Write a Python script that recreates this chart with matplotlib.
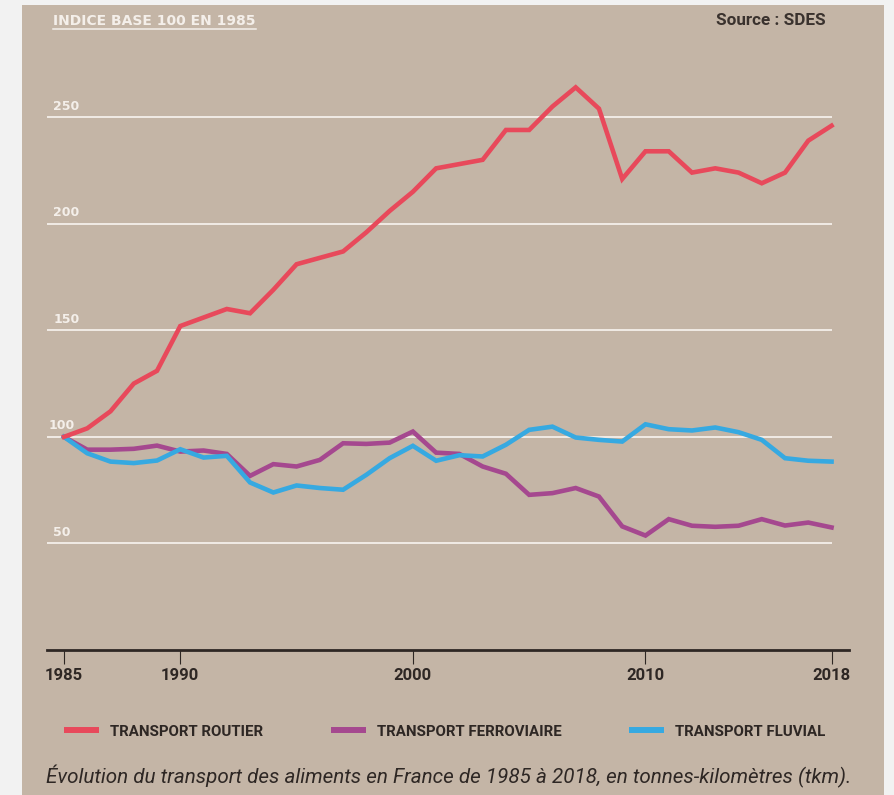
#!/usr/bin/env python
# coding=utf8
'''
Transport des aliments en France, indice base 100 en 1985.
'''

import numpy as np
import matplotlib
matplotlib.use('Agg')
import matplotlib.pyplot as plt
from matplotlib.patches import Rectangle
from matplotlib.lines import Line2D

# Data {{{
years = np.arange(1985, 2019)

routier = [100, 104, 112, 125, 131, 152, 156, 160, 158, 169,
           181, 184, 187, 196, 206, 215, 226, 228, 230, 244,
           244, 255, 264, 254, 221, 234, 234, 224, 226, 224,
           219, 224, 239, 246]

ferroviaire = [100, 94, 94, 94.4, 95.9, 93.1, 93.6, 92, 81.7, 87.2,
               86.1, 89.2, 97, 96.7, 97.3, 102.5, 92.6, 92, 86.1, 82.7,
               72.8, 73.6, 76, 72, 58, 53.7, 61.4, 58.3, 57.8, 58.3,
               61.4, 58.4, 59.8, 57.5]

fluvial = [100, 92.3, 88.4, 87.7, 88.9, 94.2, 90.3, 91.1, 78.6, 73.9,
           77.2, 76, 75.2, 82.2, 90, 95.8, 88.8, 91.4, 90.8, 96.3,
           103.3, 104.8, 99.7, 98.6, 97.8, 105.9, 103.6, 103, 104.4, 102.2,
           98.6, 90, 88.8, 88.4]

series_labels = ['TRANSPORT ROUTIER', 'TRANSPORT FERROVIAIRE', 'TRANSPORT FLUVIAL']
grid_values = [50, 100, 150, 200, 250]
xtick_years = [1985, 1990, 2000, 2010, 2018]
# }}}

# Style {{{
W, H = 894, 795
bg_out = '#F2F2F2'
panel = '#C4B5A6'
white = '#F4EFEA'
dark = '#2E2724'
c_red = '#E8495B'
c_purple = '#A5488F'
c_blue = '#36A9E1'
lw = 3.3
#}}}

fig = plt.figure(figsize=(W / 100., H / 100.), dpi=100, facecolor=bg_out)
fig.patches.append(Rectangle((22. / W, 0), (884. - 22.) / W, 1 - 5. / H,
                             transform=fig.transFigure, facecolor=panel,
                             edgecolor='none', zorder=-10))

ax = fig.add_axes([47. / W, 1 - 650. / H, (849. - 47.) / W, (650. - 20.) / H])
ax.set_zorder(2)
ax.set_facecolor('none')
ax.set_xlim(1984.27, 2018.75)
ax.set_ylim(0, 295.6)

for s in ['top', 'left', 'right']:
    ax.spines[s].set_visible(False)
ax.spines['bottom'].set_color(dark)
ax.spines['bottom'].set_linewidth(2.0)

ax.hlines(grid_values, 1984.27, 2018, color=white, lw=1.3, zorder=1)

for v in grid_values:
    dx = 1 if v == 100 else 4.5
    ax.annotate(str(v), xy=(0, v), xycoords=('axes fraction', 'data'),
                xytext=(dx, 5.5), textcoords='offset points',
                ha='left', va='baseline', fontsize=9, fontweight='bold',
                color=white, family='DejaVu Sans')

ax.plot(years, ferroviaire, color=c_purple, lw=lw, solid_joinstyle='miter',
        label=series_labels[1], zorder=3, clip_on=False)
ax.plot(years, fluvial, color=c_blue, lw=lw, solid_joinstyle='miter',
        label=series_labels[2], zorder=4, clip_on=False)
ax.plot(years, routier, color=c_red, lw=lw, solid_joinstyle='miter',
        label=series_labels[0], zorder=5, clip_on=False)

ax.set_yticks([])
ax.set_xticks(xtick_years)
ax.set_xticklabels([str(y) for y in xtick_years])
ax.tick_params(axis='x', direction='out', length=10, width=0.8, color=dark,
               pad=3, labelsize=12, labelcolor=dark)
for t in ax.get_xticklabels():
    t.set_fontweight('bold')
    t.set_family('Roboto')

# Legend {{{
handles, labels = ax.get_legend_handles_labels()
order = [2, 0, 1]
leg = fig.legend([handles[i] for i in order], [labels[i] for i in order],
                 loc='center left', bbox_to_anchor=(64. / W, 1 - 731.5 / H),
                 ncol=3, frameon=False, borderpad=0, borderaxespad=0,
                 handlelength=2.35, handletextpad=0.72, columnspacing=4.5,
                 prop={'family': 'Roboto', 'weight': 'bold', 'size': 10.8})
for t in leg.get_texts():
    t.set_color(dark)
for l in leg.get_lines():
    l.set_linewidth(4.3)
    l.set_solid_capstyle('butt')
#}}}

# Header, source, caption
hdr = fig.text(53. / W, 1 - 25. / H, 'INDICE BASE 100 EN 1985', ha='left',
               va='baseline', fontsize=10, fontweight='bold', color=white,
               family='DejaVu Sans')
fig.text(826. / W, 1 - 25. / H, 'Source : SDES', ha='right', va='baseline',
         fontsize=12.3, fontweight='bold', color='#3A322E', family='Roboto')
fig.text(46. / W, 1 - 783. / H,
         u'Évolution du transport des aliments en France de 1985 à 2018, en tonnes-kilomètres (tkm).',
         ha='left', va='baseline', fontsize=14.85, style='italic', color=dark,
         family='Roboto')

# underline of the header
fig.canvas.draw()
bb = hdr.get_window_extent()
fig.lines.append(Line2D([bb.x0 / W, bb.x1 / W], [1 - 28.5 / H, 1 - 28.5 / H],
                        transform=fig.transFigure, color=white, lw=1.1))

fig.savefig('out.png', dpi=100, facecolor=bg_out)
